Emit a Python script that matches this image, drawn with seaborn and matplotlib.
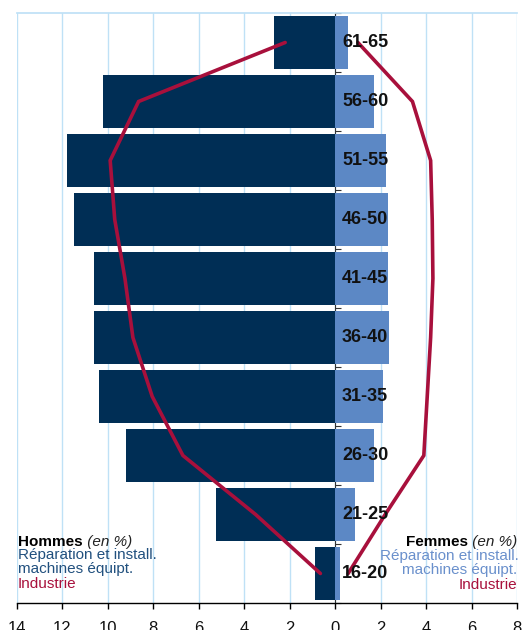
import numpy as np
import pandas as pd
import matplotlib
matplotlib.use("Agg")
import matplotlib.pyplot as plt
import seaborn as sns
from matplotlib.ticker import FuncFormatter

# Data
ages = ["61-65", "56-60", "51-55", "46-50", "41-45", "36-40", "31-35", "26-30", "21-25", "16-20"]
hommes_repar = [2.7, 10.2, 11.8, 11.5, 10.6, 10.6, 10.4, 9.2, 5.25, 0.9]
femmes_repar = [0.55, 1.72, 2.25, 2.34, 2.34, 2.38, 2.12, 1.72, 0.89, 0.19]
hommes_indus = [2.2, 8.65, 9.9, 9.7, 9.25, 8.9, 8.05, 6.7, 3.5, 0.65]
femmes_indus = [1.0, 3.4, 4.2, 4.27, 4.3, 4.2, 4.05, 3.9, 2.2, 0.57]
xticks = [-14, -12, -10, -8, -6, -4, -2, 0, 2, 4, 6, 8]

navy = "#002E55"
light = "#5C88C5"
crimson = "#A8103C"
grid_col = "#BFE1F6"

sns.set_theme(style="white")
plt.rcParams["font.family"] = ["Liberation Sans Narrow", "Liberation Sans", "DejaVu Sans"]

df = pd.DataFrame({"age": ages,
                   "hommes": [-v for v in hommes_repar],
                   "femmes": femmes_repar})

fig = plt.figure(figsize=(5.32, 6.30), dpi=100)
ax = fig.add_axes([17 / 532, 27 / 630, 500 / 532, 590 / 630])

sns.barplot(data=df, x="hommes", y="age", orient="h", color=navy, width=0.91,
            saturation=1, linewidth=0, ax=ax, zorder=2)
sns.barplot(data=df, x="femmes", y="age", orient="h", color=light, width=0.91,
            saturation=1, linewidth=0, ax=ax, zorder=2)

ax.plot([-v for v in hommes_indus], ages, color=crimson, lw=2.6, zorder=3,
        solid_joinstyle="miter")
ax.plot(femmes_indus, ages, color=crimson, lw=2.6, zorder=3, solid_joinstyle="miter")

for i, a in enumerate(ages):
    ax.text(0.3, i, a, fontsize=13, fontweight="bold", color="#111111",
            va="center", ha="left", zorder=4)

ax.set_xlim(-14, 8)
ax.set_ylim(9.5, -0.5)
ax.set_xticks(xticks)
ax.xaxis.set_major_formatter(FuncFormatter(lambda v, p: f"{abs(int(round(v)))}"))
ax.set_yticks(np.arange(-0.5, 10, 1.0))
ax.set_yticklabels([])
ax.set_xlabel("")
ax.set_ylabel("")

ax.grid(axis="x", color=grid_col, lw=1.0, zorder=0)
ax.set_axisbelow(True)
ax.spines["top"].set_color(grid_col)
ax.spines["right"].set_visible(False)
ax.spines["left"].set_position(("data", 0))
ax.spines["left"].set_color("#333333")
ax.spines["left"].set_linewidth(0.8)
ax.spines["left"].set_zorder(1)
ax.spines["bottom"].set_color("black")
ax.spines["bottom"].set_linewidth(1.0)
ax.tick_params(axis="x", direction="out", length=4.5, width=1, color="black",
               pad=8.5, labelsize=12, labelcolor="#111111", bottom=True)
ax.tick_params(axis="y", direction="in", length=4, width=0.8, color="#333333", left=True)

# legend-like text blocks
def fy(py):
    return 1 - py / 630

t1 = fig.text(18 / 532, fy(546), "Hommes", fontsize=11, fontweight="bold", color="black")
ax.annotate(" (en %)", xy=(1, 0), xycoords=t1, va="bottom", ha="left",
            fontsize=11, style="italic", color="#222222")
fig.text(18 / 532, fy(559.5), "Réparation et install.", fontsize=11, color="#21507E")
fig.text(18 / 532, fy(573), "machines équipt.", fontsize=11, color="#21507E")
fig.text(18 / 532, fy(588), "Industrie", fontsize=11, color=crimson)

t2 = fig.text(517 / 532, fy(546), " (en %)", fontsize=11, style="italic",
              color="#222222", ha="right")
ax.annotate("Femmes", xy=(0, 0), xycoords=t2, va="bottom", ha="right",
            fontsize=11, fontweight="bold", color="black")
fig.text(519 / 532, fy(560), "Réparation et install.", fontsize=11, color="#6A90CC", ha="right")
fig.text(517 / 532, fy(574), "machines équipt.", fontsize=11, color="#6A90CC", ha="right")
fig.text(517 / 532, fy(589), "Industrie", fontsize=11, color=crimson, ha="right")

fig.savefig("out.png", dpi=100)
